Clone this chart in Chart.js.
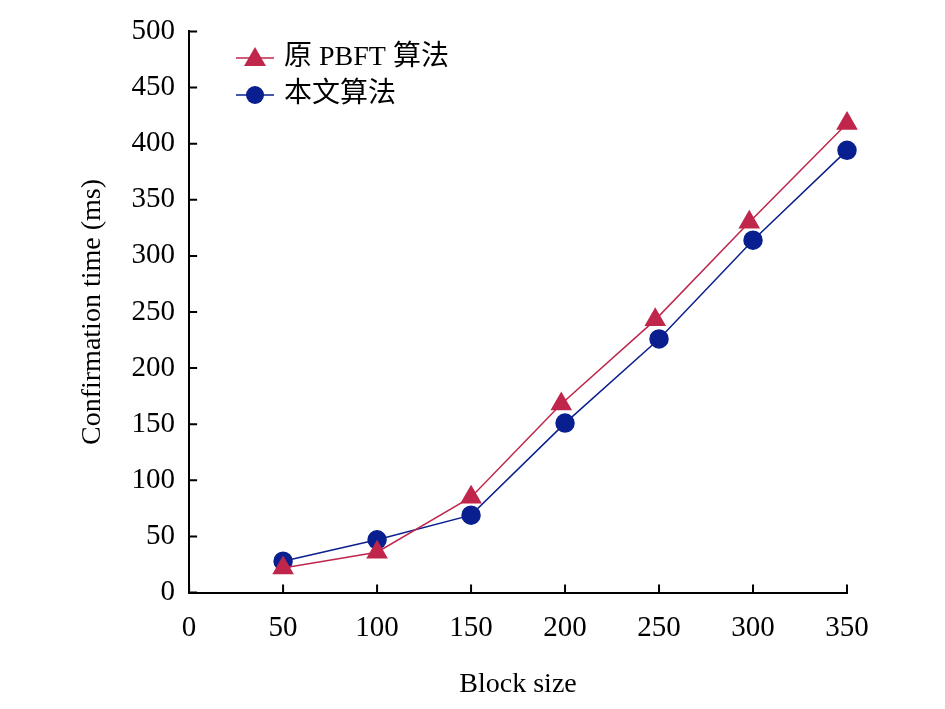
<!DOCTYPE html>
<html>
<head>
<meta charset="utf-8">
<script src="https://cdn.jsdelivr.net/npm/chart.js@4"></script>
<style>
  html, body { margin: 0; padding: 0; background: #fff; }
  #wrap { width: 945px; height: 709px; }
</style>
</head>
<body>
<div id="wrap"><canvas id="chart"></canvas></div>
<script>
// Data
const pbftX = [50, 100, 150, 198, 248, 298, 350];
const pbftY = [22, 36, 85, 168, 243, 330, 418];
const oursX = [50, 100, 150, 200, 250, 300, 350];
const oursY = [28, 47, 69, 151, 226, 314, 394];
const seriesNames = ['原 PBFT 算法', '本文算法'];
const xTicks = [0, 50, 100, 150, 200, 250, 300, 350];
const yTicks = [0, 50, 100, 150, 200, 250, 300, 350, 400, 450, 500];

const RED = '#c0264b';
const BLUE = '#0a1f8f';
const FONT = '"Liberation Serif", "Times New Roman", serif';

const toPts = (xs, ys) => xs.map((x, i) => ({ x: x, y: ys[i] }));

// ticks pointing into the plot + legend drawn inside the plot
const extras = {
    id: 'extras',
    afterDraw(chart) {
        const c = chart.ctx, a = chart.chartArea;
        const xs = chart.scales.x, ys = chart.scales.y;
        c.save();
        c.strokeStyle = '#000';
        c.lineWidth = 2;
        c.beginPath();
        xTicks.forEach(v => {
            const px = xs.getPixelForValue(v);
            c.moveTo(px, a.bottom); c.lineTo(px, a.bottom - 8);
        });
        yTicks.forEach(v => {
            const py = ys.getPixelForValue(v);
            c.moveTo(a.left, py); c.lineTo(a.left + 8, py);
        });
        c.stroke();

        const items = [
            { name: seriesNames[0], color: RED, shape: 'triangle', y: 58 },
            { name: seriesNames[1], color: BLUE, shape: 'circle', y: 95 }
        ];
        items.forEach(it => {
            c.strokeStyle = it.color;
            c.lineWidth = 1.5;
            c.beginPath(); c.moveTo(236, it.y); c.lineTo(274, it.y); c.stroke();
            c.fillStyle = it.color;
            c.beginPath();
            if (it.shape === 'circle') {
                c.arc(255, it.y, 9, 0, Math.PI * 2);
            } else {
                c.moveTo(255, it.y - 11); c.lineTo(266, it.y + 8); c.lineTo(244, it.y + 8); c.closePath();
            }
            c.fill();
            c.fillStyle = '#000';
            c.font = '28px "Liberation Serif", "Noto Sans CJK SC", serif';
            c.textBaseline = 'middle';
            c.fillText(it.name, 284, it.y);
        });
        c.restore();
    }
};

new Chart(document.getElementById('chart'), {
    type: 'line',
    data: {
        datasets: [{
            label: seriesNames[0],
            data: toPts(pbftX, pbftY),
            borderColor: RED,
            backgroundColor: RED,
            borderWidth: 1.5,
            pointStyle: 'triangle',
            pointRadius: 11,
            tension: 0,
            clip: false
        }, {
            label: seriesNames[1],
            data: toPts(oursX, oursY),
            borderColor: BLUE,
            backgroundColor: BLUE,
            borderWidth: 1.5,
            pointStyle: 'circle',
            pointRadius: 9,
            tension: 0,
            clip: false
        }]
    },
    options: {
        responsive: true,
        maintainAspectRatio: false,
        animation: false,
        layout: { padding: { left: 72, right: 98, top: 2, bottom: 4 } },
        plugins: { legend: { display: false }, tooltip: { enabled: false } },
        scales: {
            x: {
                type: 'linear',
                min: 0, max: 350,
                afterBuildTicks: s => { s.ticks = xTicks.map(v => ({ value: v })); },
                grid: { drawOnChartArea: false, drawTicks: false },
                border: { color: '#000', width: 2 },
                ticks: { color: '#000', padding: 18, font: { family: FONT, size: 29 } },
                title: { display: true, text: 'Block size', color: '#000', padding: { top: 4 }, font: { family: FONT, size: 28 } }
            },
            y: {
                min: 0, max: 500,
                afterBuildTicks: s => { s.ticks = yTicks.map(v => ({ value: v })); },
                grid: { drawOnChartArea: false, drawTicks: false },
                border: { color: '#000', width: 2 },
                ticks: { color: '#000', padding: 14, font: { family: FONT, size: 29 } },
                title: { display: true, text: 'Confirmation time (ms)', color: '#000', padding: { bottom: 8 }, font: { family: FONT, size: 28 } }
            }
        }
    },
    plugins: [extras]
});
</script>
</body>
</html>
